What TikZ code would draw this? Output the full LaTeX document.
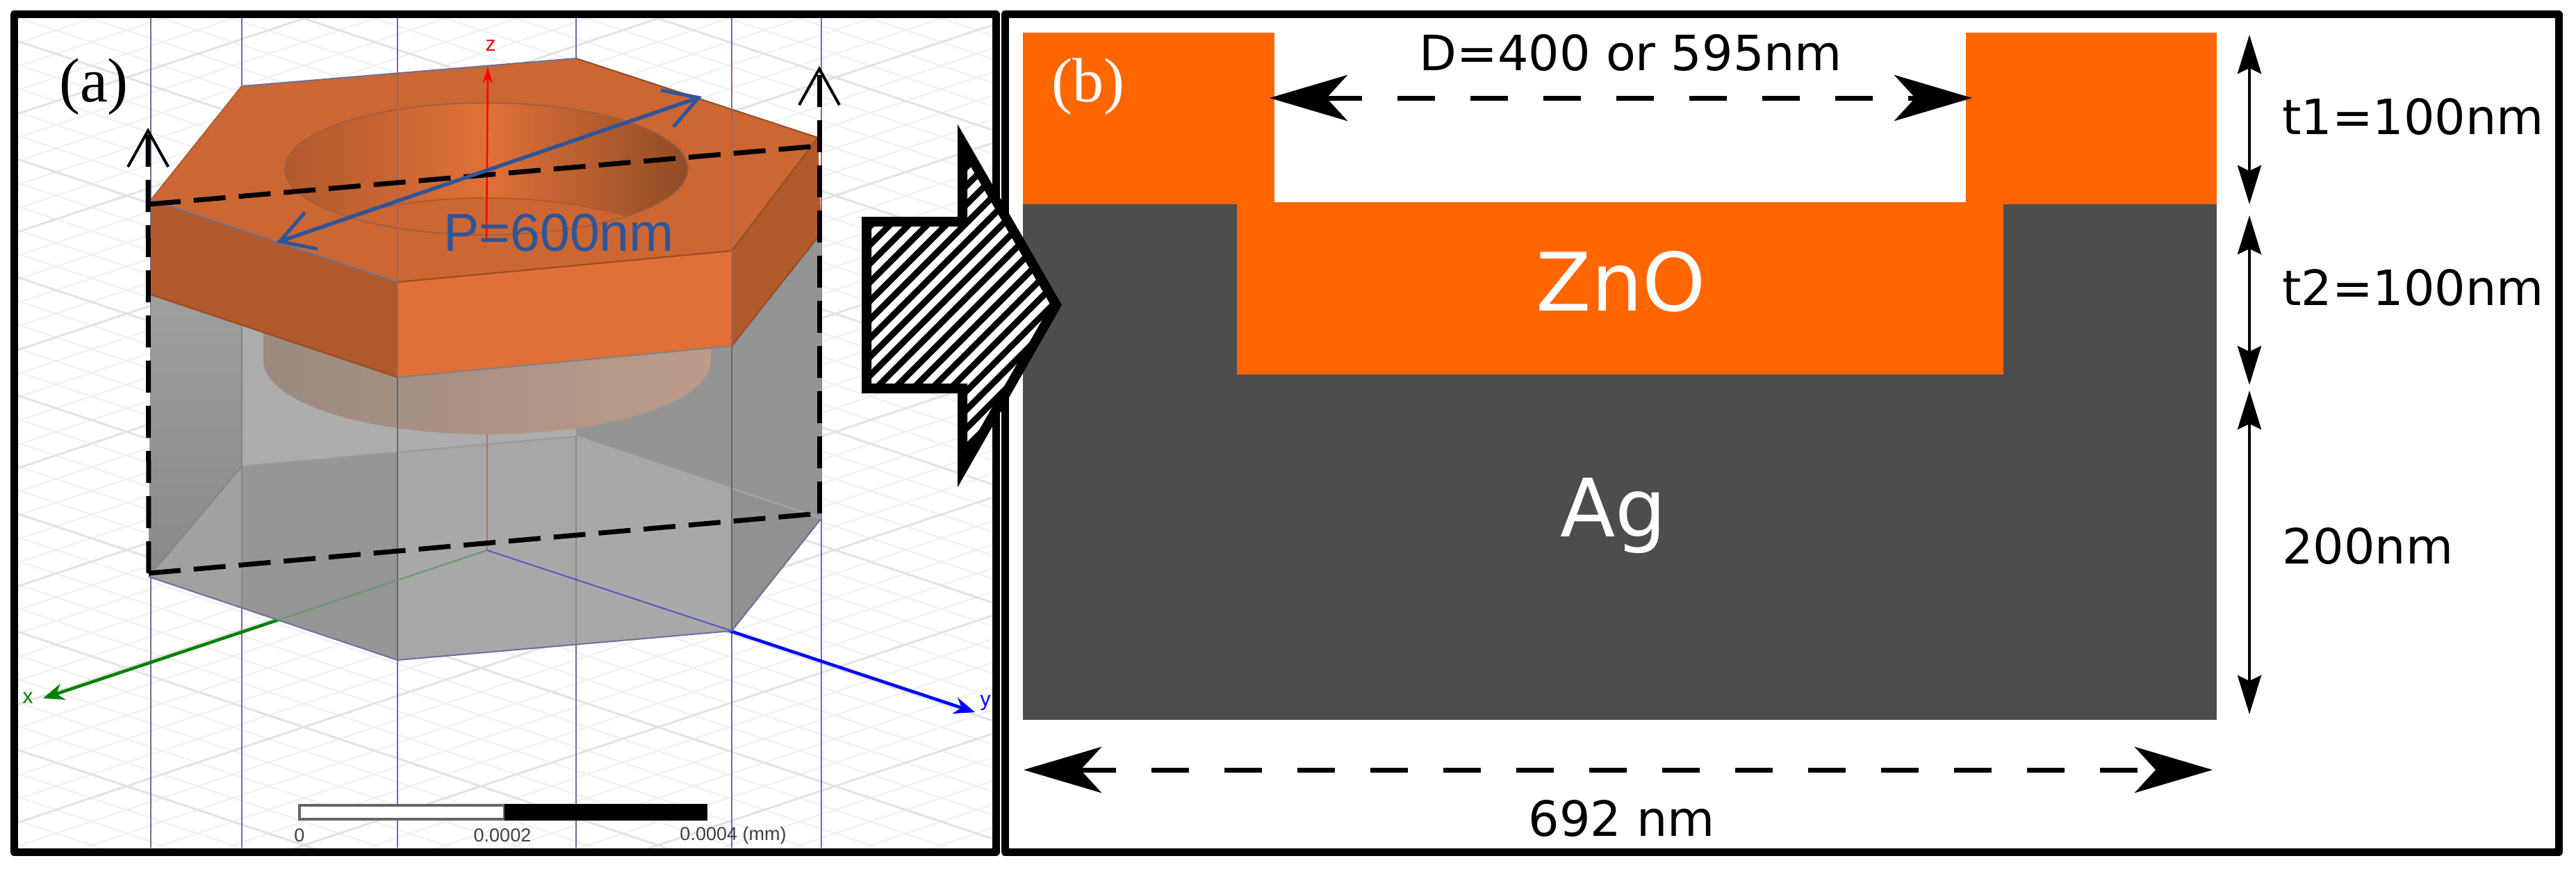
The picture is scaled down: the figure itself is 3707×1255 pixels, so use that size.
\documentclass[tikz,border=0pt]{standalone}
\usepackage{fontspec}
\usepackage{tikz}
\usetikzlibrary{arrows.meta,patterns.meta}
\newfontfamily\dimfont{DejaVu Sans}
\newfontfamily\serifont{Liberation Serif}
\newfontfamily\cadfont{Liberation Sans}
\definecolor{topface}{HTML}{CC6733}
\definecolor{frontface}{HTML}{E07038}
\definecolor{sideface}{HTML}{B05A2C}
\definecolor{holedark}{HTML}{8F4C25}
\definecolor{discleft}{HTML}{9A8A80}
\definecolor{discright}{HTML}{BC9C8A}
\definecolor{znocol}{HTML}{FF6600}
\definecolor{agcol}{HTML}{4D4D4D}
\definecolor{bluelab}{HTML}{2F5597}
\definecolor{wirecol}{HTML}{6C7099}
\definecolor{axgreen}{HTML}{008000}
\tikzset{
  dimtext/.style={font=\dimfont\fontsize{70}{70}\selectfont,text=black,inner sep=0pt},
  mattext/.style={font=\dimfont\fontsize{116}{116}\selectfont,text=white,inner sep=0pt},
  pantext/.style={font=\serifont\fontsize{90}{90}\selectfont,inner sep=0pt},
  cadtext/.style={font=\cadfont\fontsize{27}{27}\selectfont,text=black!75,inner sep=0pt},
  axtext/.style={font=\cadfont\fontsize{30}{30}\selectfont,inner sep=0pt},
  frameline/.style={black,line width=11pt},
  wire/.style={wirecol,line width=2pt},
  dashline/.style={black,line width=7pt,dash pattern=on 46pt off 19pt},
  openarrow/.style={black,line width=7pt,dash pattern=on 46pt off 19pt,-{Straight Barb[length=52pt,width=58pt,line width=4pt]}},
  spanarrow/.style={black,line width=7pt,dash pattern=on 54pt off 51pt,{Stealth[length=112pt,width=66pt,inset=30pt]}-{Stealth[length=112pt,width=66pt,inset=30pt]}},
  heightarrow/.style={black,line width=4.5pt,{Stealth[length=56pt,width=34pt,inset=8pt]}-{Stealth[length=56pt,width=34pt,inset=8pt]}}
}
\begin{document}
\begin{tikzpicture}[x=1pt,y=-1pt]
\useasboundingbox (0,0) rectangle (3707,1255);
\fill[white] (0,0) rectangle (3707,1255);

% hexagon corners, top face, lower edge of the cap, bottom of the box
\coordinate (fa) at (348,124);  \coordinate (fb) at (829,84);   \coordinate (fc) at (1177,198);
\coordinate (fd) at (1053,361); \coordinate (fe) at (572,406);  \coordinate (ff) at (217,288);
\coordinate (cc) at (1182,335); \coordinate (cd) at (1053,498); \coordinate (ce) at (572,543);
\coordinate (cf) at (217,424);
\coordinate (ba) at (348,671);  \coordinate (bb) at (829,628);  \coordinate (bc) at (1182,746);
\coordinate (bd) at (1053,908); \coordinate (be) at (572,950);  \coordinate (bf) at (214,830);
\coordinate (orig) at (701,792);
\coordinate (xtip) at (62,1005);
\coordinate (ytip) at (1403,1025);
\coordinate (ztip) at (702,96);

% background grid
\begin{scope}
\clip (25,26) rectangle (1428,1220);
\foreach \k in {-44,...,16}{
  \draw[black!6,line width=2pt] (25,{901+34*\k+8}) -- (1428,{901+34*\k+476});
  \draw[black!6,line width=2pt] (25,{1192+34*\k-8}) -- (1428,{1192+34*\k-476});
}
\foreach \k in {-45,-40,...,15}{
  \draw[black!11,line width=3pt] (25,{901+34*\k+8}) -- (1428,{901+34*\k+476});
  \draw[black!11,line width=3pt] (25,{1192+34*\k-8}) -- (1428,{1192+34*\k-476});
}
\foreach \xx in {217,348,572,829,1053,1182}
  \draw[wire] (\xx,26) -- (\xx,1220);
\end{scope}

% axes outside of the box
\draw[axgreen,line width=4.5pt,-{Stealth[length=30pt,width=24pt]}] (orig) -- (xtip);
\draw[blue,line width=4.5pt,-{Stealth[length=30pt,width=24pt]}] (orig) -- (ytip);
\node[axtext,text=axgreen] (xlabel) at (40,1005) {x};
\node[axtext,text=blue] (ylabel) at (1418,1012) {y};

% grey box
\fill[black!34] (cf) -- (ce) -- (cd) -- (cc) -- (bc) -- (bd) -- (be) -- (bf) -- cycle;
\fill[black!32] (348,400) -- (829,400) -- (bb) -- (ba) -- cycle;
\shade[top color=black!38,bottom color=black!46] (cf) -- (348,462) -- (ba) -- (bf) -- cycle;
\fill[black!42] (829,400) -- (cc) -- (bc) -- (bb) -- cycle;
\fill[black!41] (ba) -- (572,651) -- (be) -- (348,875) -- cycle;
\fill[black!37] (ba) -- (348,875) -- (bf) -- cycle;
\fill[black!43] (1053,703) -- (bc) -- (bd) -- cycle;
\draw[black!40,line width=2pt] (ba) -- (bb);
\draw[black!48,line width=2pt] (ba) -- (bf);
\draw[wirecol!70!black!50,line width=2pt] (bb) -- (bc);
\draw[black!48,line width=2pt] (348,462) -- (348,875) (829,628) -- (829,928);

% disc under the cap
\shade[left color=discleft,right color=discright]
  (379,470) -- (379,519) arc[start angle=180,end angle=0,x radius=322,y radius=106] -- (1023,470) -- cycle;

\draw[black!60,line width=2.5pt] (572,543) -- (be) (1053,498) -- (bd);
\draw[wire] (bf) -- (be) -- (bd) -- (bc);

% axes seen through the box
\draw[red!50!gray!80,line width=2pt] (701,625) -- (orig);
\draw[axgreen!50!gray!80,line width=2pt] (orig) -- (398,893);
\draw[blue!45!gray!90,line width=2pt] (orig) -- (bd);

% orange cap
\fill[sideface] (ff) -- (fe) -- (ce) -- (cf) -- cycle;
\fill[sideface] (fd) -- (fc) -- (cc) -- (cd) -- cycle;
\fill[frontface] (fe) -- (fd) -- (cd) -- (ce) -- cycle;
\fill[topface] (fa) -- (fb) -- (fc) -- (fd) -- (fe) -- (ff) -- cycle;
\draw[black!50,line width=2pt] (ce) -- (cd);
\draw[sideface!85!black,line width=2pt] (fe) -- (fd) (cf) -- (ce) (cd) -- (cc) (fb) -- (fc) -- (fd);
\draw[wirecol,line width=2pt] (ff) -- (fe) (fa) -- (fb);
\draw[sideface,line width=2pt] (fa) -- (ff);

% hole
\shade[left color=sideface,right color=holedark,middle color=frontface] (700,243) ellipse[x radius=290,y radius=95];
\begin{scope}
\clip (700,243) ellipse[x radius=290,y radius=95];
\fill[topface] (700,380) ellipse[x radius=290,y radius=95];
\draw[sideface,line width=2pt] (700,380) ellipse[x radius=290,y radius=95];
\end{scope}
\draw[sideface!80!wirecol,line width=2pt] (700,243) ellipse[x radius=290,y radius=95];

% lines over the cap
\foreach \xx in {572,1053}
  \draw[wirecol!70!topface,line width=2pt] (\xx,90) -- (\xx,{\xx==572 ? 543 : 498});
\draw[wirecol!70!topface,line width=2pt] (1182,198) -- (1182,335);
\draw[red,line width=2.5pt,-{Stealth[length=24pt,width=14pt]}] (700,345) -- (ztip);
\node[axtext,text=red] (zlabel) at (706,66) {z};

% section plane
\coordinate (plb) at (214,825);
\coordinate (plr) at (1179,739);
\coordinate (ptl) at (214,294);
\coordinate (ptr) at (1179,210);
\coordinate (aleft) at (213,184);
\coordinate (aright) at (1179,95);
\draw[dashline] (ptl) -- (ptr);
\draw[dashline] (plb) -- (plr);
\draw[openarrow] (plb) -- (aleft);
\draw[openarrow] (plr) -- (aright);

% period
\coordinate (pa) at (398,349);
\coordinate (pb) at (1010,139);
\draw[bluelab,line width=5.5pt,{Straight Barb[length=48pt,width=56pt,line width=5pt]}-{Straight Barb[length=48pt,width=56pt,line width=5pt]}] (pa) -- (pb);
\node[font=\cadfont\fontsize{77}{77}\selectfont,text=bluelab,inner sep=0pt] (ptext) at (804,335) {P=600nm};
\node[pantext,text=black] (alabel) at (135,125) {(a)};

% scale bar
\draw[black!60,line width=4pt,fill=white] (431,1159) rectangle (726,1179);
\fill[black] (726,1157) rectangle (1018,1181);
\node[cadtext] (sbzero) at (431,1202) {0};
\node[cadtext] (sbmid) at (723,1202) {0.0002};
\node[cadtext] (sbend) at (1055,1202) {0.0004 (mm)};

% panel b
\fill[agcol] (1472,294) rectangle (3190,1036);
\fill[znocol] (1472,47) rectangle (1834,294);
\fill[znocol] (2829,47) rectangle (3190,294);
\fill[znocol] (1780,291) rectangle (2883,539);
\node[mattext] (zno) at (2333,405) {ZnO};
\node[mattext] (ag) at (2322,742) {Ag};
\node[pantext,text=white] (blabel) at (1566,125) {(b)};

\coordinate (dleft) at (1827,141);
\coordinate (dright) at (2838,141);
\coordinate (wleft) at (1473,1108);
\coordinate (wright) at (3184,1108);
\draw[spanarrow] (dleft) -- (dright);
\draw[spanarrow] (wleft) -- (wright);
\node[dimtext] (dtext) at (2347,76) {D=400 or 595nm};
\node[dimtext] (wtext) at (2334,1178) {692 nm};

\coordinate (ta) at (3237,50);
\coordinate (tb) at (3237,294);
\coordinate (tc) at (3237,310);
\coordinate (td) at (3237,554);
\coordinate (te) at (3237,562);
\coordinate (tf) at (3237,1028);
\draw[heightarrow] (ta) -- (tb);
\draw[heightarrow] (tc) -- (td);
\draw[heightarrow] (te) -- (tf);
\node[dimtext,anchor=west] (tonetext) at (3284,168) {t1=100nm};
\node[dimtext,anchor=west] (ttwotext) at (3284,414) {t2=100nm};
\node[dimtext,anchor=west] (agtext) at (3284,786) {200nm};

% frames
\draw[frameline,line join=round] (20,21) rectangle (1433,1226);
\draw[frameline,line join=round] (1446,21) rectangle (3682,1226);

% hatched arrow
\draw[black,line width=14pt,miter limit=12,preaction={fill=white},pattern={Lines[angle=45,distance=19pt,line width=9pt]},pattern color=black]
  (1247,319) -- (1385,319) -- (1385,205) -- (1520,439) -- (1385,675) -- (1385,559) -- (1247,559) -- cycle;
\end{tikzpicture}
\end{document}
